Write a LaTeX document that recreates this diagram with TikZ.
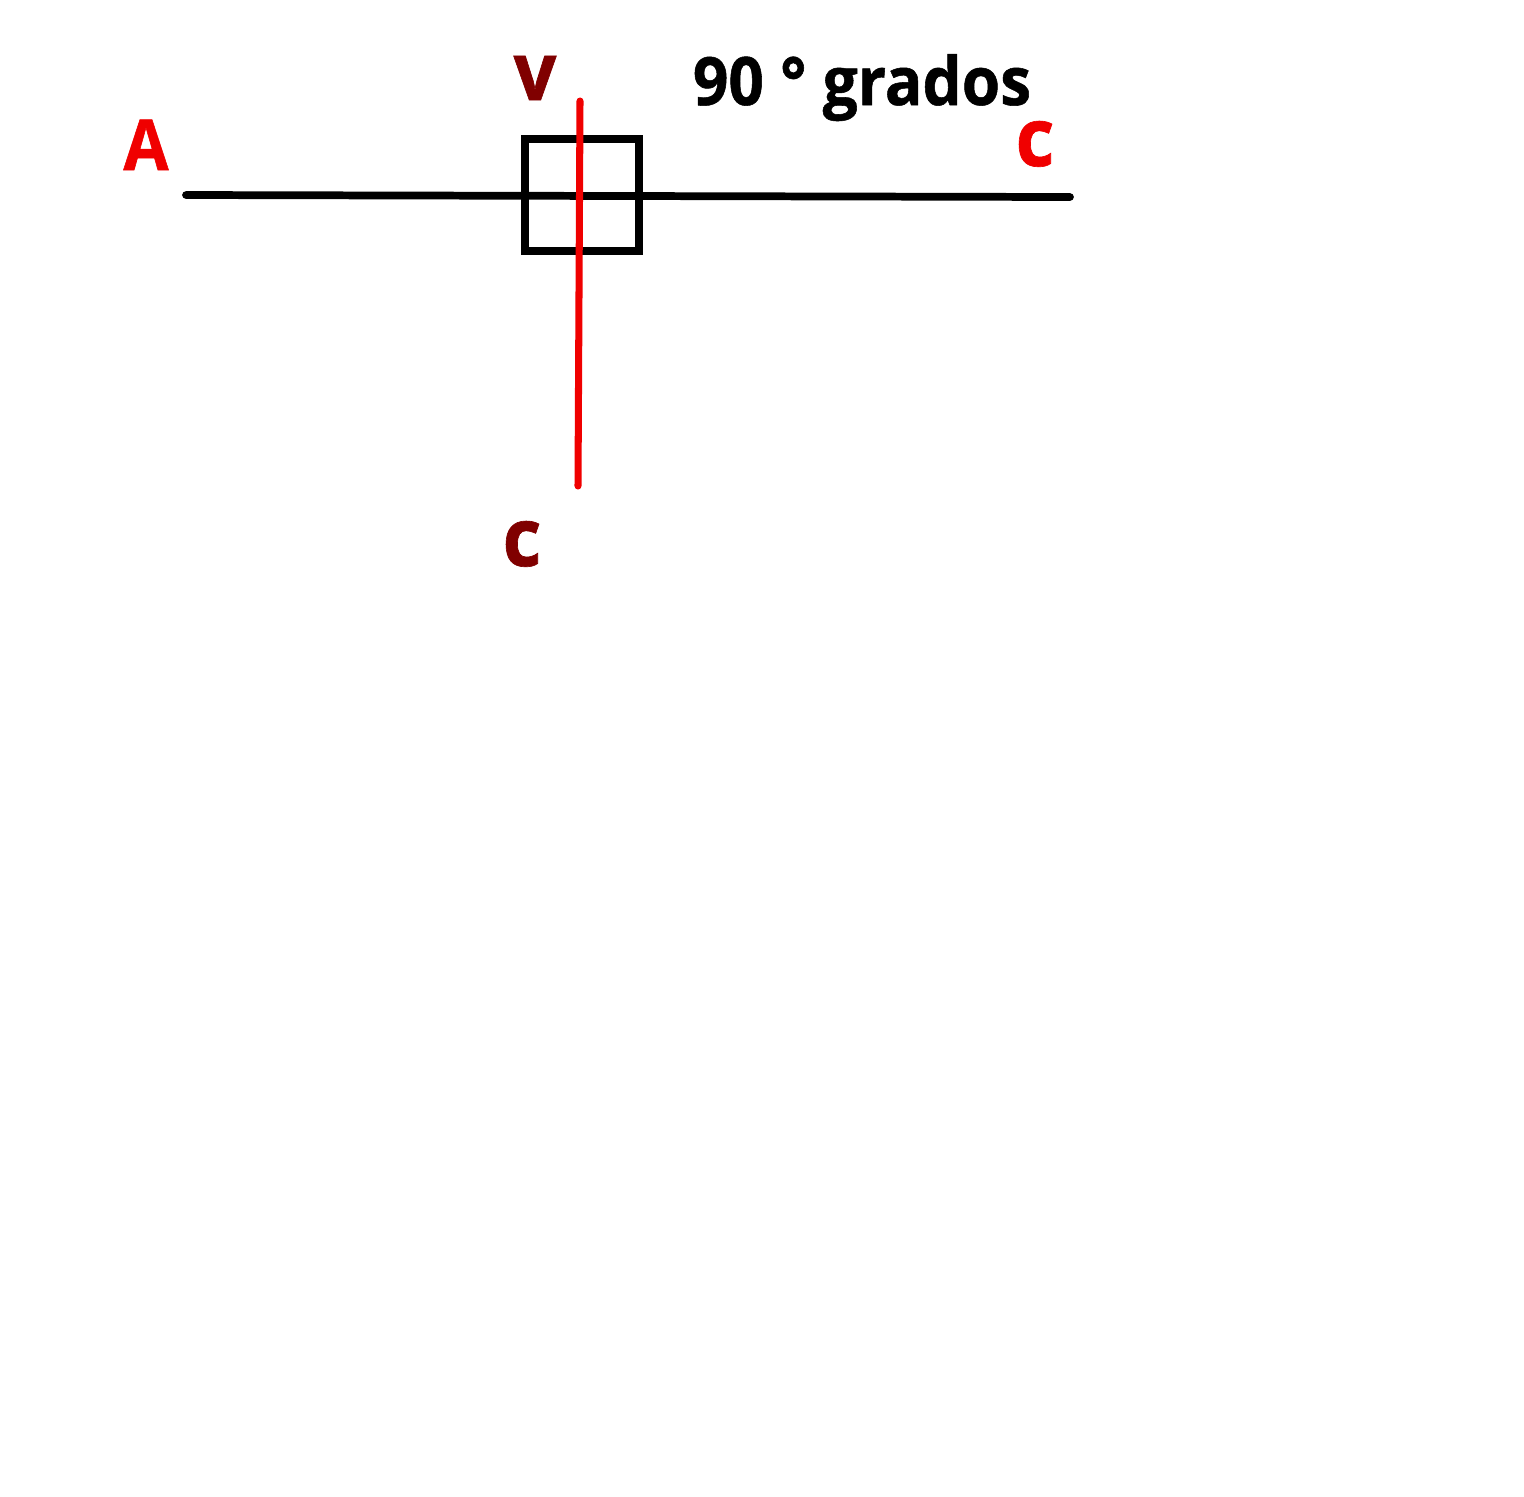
\documentclass[tikz,border=0pt]{standalone}
\usepackage{fontspec}
\setmainfont{Open Sans}
\newfontfamily\heavy{Open Sans}[BoldFeatures={FakeBold=0.8}, FakeStretch=0.93]
\usepackage{tikz}

\definecolor{darkred}{HTML}{800000}
\definecolor{brightred}{HTML}{F00000}

\begin{document}
\begin{tikzpicture}[x=0.01cm, y=-0.01cm, every node/.style={inner sep=0pt, anchor=base}, seg/.style={line width=2.2pt, line cap=round}, lbl/.style={font=\fontsize{23}{26}\selectfont\heavy\bfseries}]
	\useasboundingbox (0,0) rectangle (1524,1496);
	% horizontal line and the right-angle box
	\coordinate (h1) at (186,195);
	\coordinate (h2) at (1070,197);
	\coordinate (v1) at (580,101);
	\coordinate (v2) at (578,486);
	\draw[seg] (h1) -- (h2);
	\draw[line width=2.1pt] (525,139) rectangle (639,251);
	\draw[seg, brightred, line width=2pt] (v1) -- (v2);
	% labels
	\node[lbl, brightred, font=\fontsize{20}{24}\selectfont\heavy\bfseries] (labA) at (146,170) {A};
	\node[lbl, darkred] (labv) at (535,100) {v};
	\node[lbl, brightred] (labc) at (1035,166) {c};
	\node[lbl, darkred] (labcc) at (522,566) {c};
	\node[font=\fontsize{19}{22}\selectfont\heavy\bfseries, text depth=0pt] (ang) at (862,105) {90 ° grados};
\end{tikzpicture}
\end{document}
